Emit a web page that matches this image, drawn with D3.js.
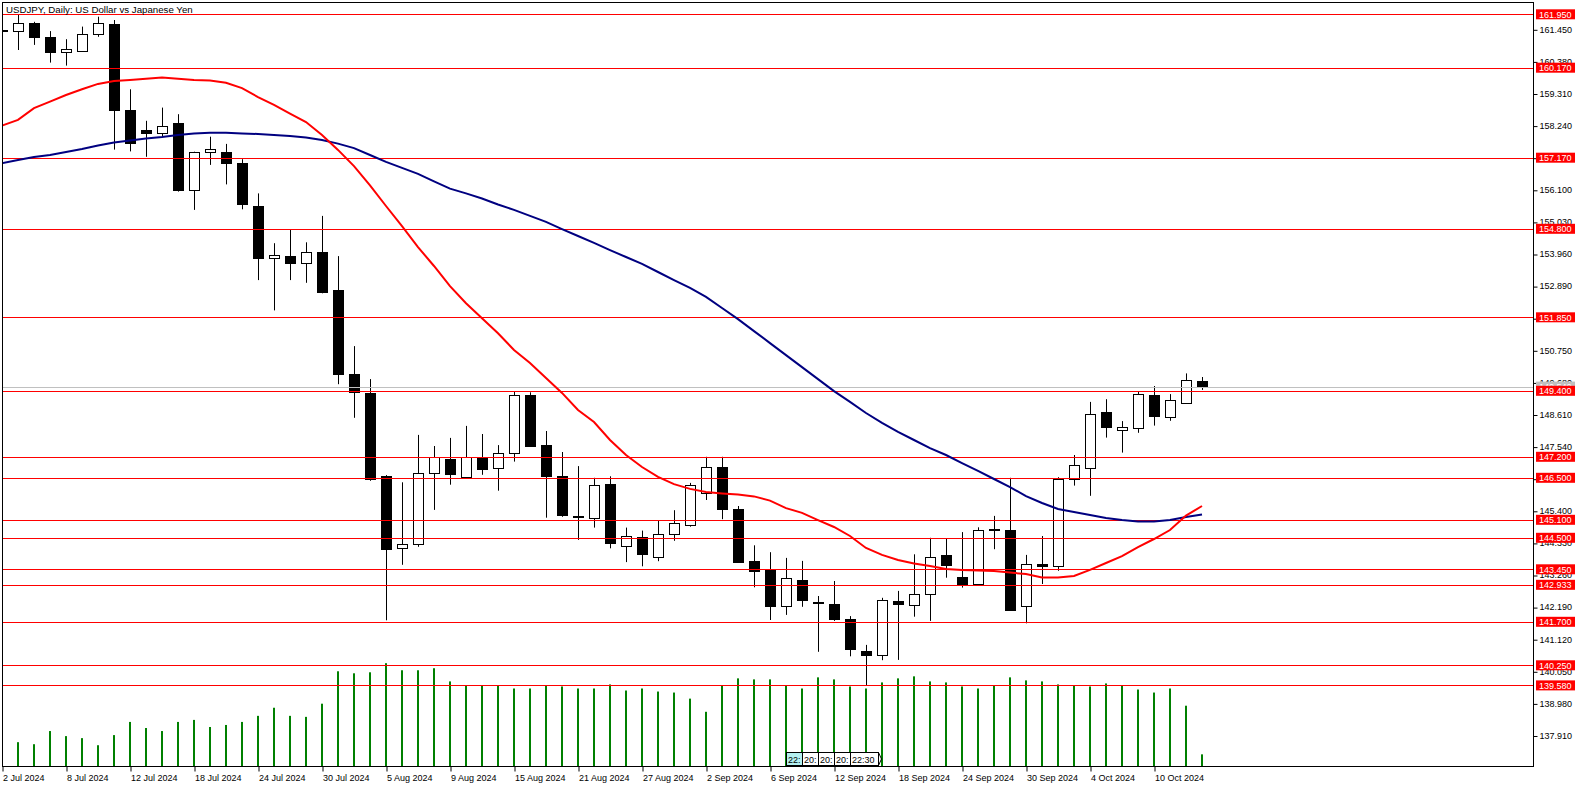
<!DOCTYPE html>
<html>
<head>
<meta charset="utf-8">
<script src="https://cdnjs.cloudflare.com/ajax/libs/d3/7.8.5/d3.min.js"></script>
<style>
body { margin: 0; background: #fff; }
svg text { font-family: "Liberation Sans", Arial, sans-serif; font-size: 9px; }
</style>
</head>
<body>
<div id="chart"></div>
<script>
// daily USDJPY candles, 2 Jul 2024 .. 15 Oct 2024 (one value per bar)
const opens = [161.43,161.37,161.65,161.18,160.67,160.73,161.28,161.62,158.76,158.09,
158.00,158.32,156.09,157.34,157.35,156.98,155.56,153.82,153.89,153.65,
154.02,152.75,149.95,149.33,146.56,144.14,144.28,146.65,147.13,146.54,
147.19,146.82,147.32,149.26,147.58,146.55,145.23,145.14,146.28,144.23,
144.53,143.89,144.64,144.94,145.98,146.85,145.45,143.73,143.43,142.22,
143.08,142.36,142.28,141.79,140.73,140.57,142.38,142.25,142.62,143.93,
143.19,142.95,144.79,144.76,142.22,143.62,143.54,146.45,146.82,148.68,
148.08,148.15,149.26,148.52,148.99,149.72];
const highs = [161.60,161.93,161.70,161.39,161.12,161.54,161.87,161.76,159.45,158.40,
158.84,158.62,157.37,157.87,157.63,157.12,155.98,154.32,154.76,154.35,
155.23,153.89,150.89,149.79,146.59,146.35,147.93,147.56,147.83,148.23,
147.96,147.59,149.39,149.35,148.06,147.36,146.89,146.50,146.55,144.84,
144.74,145.08,145.42,146.33,147.20,147.20,145.56,144.25,144.02,143.83,
143.73,142.56,143.06,141.89,140.93,142.50,142.73,143.95,144.50,144.46,
144.69,144.85,145.23,146.50,143.93,144.56,146.52,147.26,149.03,149.12,
148.39,149.36,149.56,149.29,149.98,149.86];
const lows = [161.30,160.76,160.93,160.34,160.24,160.70,161.20,157.44,157.38,157.20,
157.87,156.04,155.43,156.93,156.28,155.45,153.09,152.08,153.09,153.00,
152.65,149.62,148.50,146.40,141.75,143.60,144.20,145.43,146.27,146.54,
146.60,146.07,147.04,147.54,145.17,145.20,144.43,144.84,144.15,143.69,
143.55,143.72,144.40,144.87,145.76,145.12,143.70,142.85,141.76,141.93,
142.20,140.70,141.73,140.55,139.58,140.42,140.43,141.87,141.73,143.17,
142.84,142.90,144.12,142.07,141.65,142.96,143.40,146.24,145.90,147.84,
147.34,148.00,148.24,148.40,148.97,149.43];
const closes = [161.40,161.65,161.20,160.67,160.78,161.28,161.65,158.76,157.67,158.00,
158.24,156.09,157.35,157.45,156.98,155.60,153.84,153.93,153.67,154.02,
152.70,149.95,149.34,146.48,144.14,144.28,146.65,147.18,146.62,147.19,
146.80,147.32,149.26,147.57,146.54,145.24,145.21,146.25,144.30,144.57,
143.96,144.64,145.01,146.26,146.85,145.45,143.70,143.40,142.24,143.15,
142.40,142.34,141.79,140.79,140.60,142.42,142.27,142.62,143.85,143.60,
142.92,144.76,144.74,142.10,143.62,143.54,146.45,146.92,148.63,148.17,
148.18,149.29,148.55,149.08,149.75,149.54];
// tick volume (thousands)
const volumes = [0,24,22,35,30,28,21,31,44,38,
35,44,46,39,41,44,50,58,50,49,
62,94,92,93,102,95,95,97,84,80,
80,80,77,77,80,79,77,77,81,75,
77,74,73,67,54,80,87,86,86,80,
77,88,86,79,77,83,87,89,84,83,
79,77,80,88,85,84,81,80,79,82,
80,76,73,77,60,12];
// moving averages
const redMA = [158.24,158.43,158.82,159.04,159.26,159.45,159.63,159.73,159.76,159.80,
159.84,159.80,159.76,159.74,159.67,159.49,159.19,158.93,158.64,158.36,
157.93,157.43,156.89,156.25,155.56,154.89,154.19,153.56,152.89,152.32,
151.82,151.32,150.76,150.33,149.83,149.33,148.76,148.36,147.76,147.26,
146.86,146.53,146.29,146.13,146.03,145.98,145.94,145.88,145.74,145.49,
145.33,145.09,144.86,144.56,144.16,143.93,143.76,143.64,143.56,143.46,
143.43,143.41,143.39,143.34,143.29,143.18,143.18,143.23,143.43,143.66,
143.89,144.19,144.46,144.76,145.24,145.56];
const blueMA = [156.99,157.09,157.19,157.26,157.36,157.46,157.58,157.68,157.74,157.81,
157.86,157.93,157.98,158.00,158.00,157.98,157.96,157.93,157.89,157.84,
157.76,157.64,157.49,157.26,157.03,156.83,156.63,156.38,156.14,155.98,
155.81,155.61,155.43,155.23,155.03,154.79,154.56,154.33,154.09,153.86,
153.63,153.36,153.09,152.83,152.53,152.16,151.79,151.39,150.99,150.59,
150.19,149.79,149.39,149.03,148.66,148.33,148.03,147.76,147.49,147.26,
146.99,146.73,146.46,146.19,145.89,145.66,145.46,145.36,145.26,145.16,
145.09,145.04,145.04,145.09,145.19,145.28];

const levels = [161.950,160.170,157.170,154.800,151.850,149.400,147.200,146.500,
145.100,144.500,143.450,142.933,141.700,140.250,139.580];
const bid = 149.540;
const priceTicks = ["161.450","160.380","159.310","158.240","157.170","156.100","155.030",
"153.960","152.890","151.820","150.750","149.680","148.610","147.540","146.470","145.400",
"144.330","143.260","142.190","141.120","140.050","138.980","137.910"];
const dateLabels = ["2 Jul 2024","8 Jul 2024","12 Jul 2024","18 Jul 2024","24 Jul 2024",
"30 Jul 2024","5 Aug 2024","9 Aug 2024","15 Aug 2024","21 Aug 2024","27 Aug 2024",
"2 Sep 2024","6 Sep 2024","12 Sep 2024","18 Sep 2024","24 Sep 2024","30 Sep 2024",
"4 Oct 2024","10 Oct 2024"];
const dateBars = [0,4,8,12,16,20,24,28,32,36,40,44,48,52,56,60,64,68,72];
const timeBoxes = ["22:","20:","20:","20:","22:30"];

var width = 1586, height = 788;
var pLeft = 2.5, pTop = 2.5, pRight = 1533.5, pBottom = 766.5;

var svg = d3.select("#chart")
    .append("svg")
    .attr("width", width)
    .attr("height", height)
    .attr("viewBox", `0 0 ${width} ${height}`);

var x = d3.scaleLinear().domain([0, 75]).range([2, 1202]);
var y = d3.scaleLinear().domain([137.91, 161.45]).range([735.5, 29.3]);
var vy = d3.scaleLinear().domain([0, 100]).range([pBottom, pBottom - 101.3]);

svg.append("defs").append("clipPath").attr("id", "plot")
    .append("rect")
    .attr("x", pLeft + 0.5).attr("y", pTop + 0.5)
    .attr("width", pRight - pLeft - 1).attr("height", pBottom - pTop - 1);

const plot = svg.append("g").attr("clip-path", "url(#plot)");

function cx(i) { return Math.round(x(i)) + 0.5; }

// volumes
plot.append("g").selectAll("rect")
    .data(volumes)
    .enter()
    .append("rect")
    .attr("x", (d, i) => cx(i) - 1.5)
    .attr("width", 2)
    .attr("y", d => vy(d))
    .attr("height", d => pBottom - vy(d))
    .attr("fill", "#008000");

// candles
const bars = d3.range(opens.length);
const candle = plot.append("g").selectAll("g")
    .data(bars)
    .enter().append("g");

candle.append("line")
    .attr("x1", i => cx(i)).attr("x2", i => cx(i))
    .attr("y1", i => y(highs[i])).attr("y2", i => y(lows[i]))
    .attr("stroke", "#000").attr("stroke-width", 1);

candle.append("rect")
    .attr("x", i => cx(i) - 5)
    .attr("width", 10)
    .attr("y", i => Math.round(y(Math.max(opens[i], closes[i]))) + 0.5)
    .attr("height", i => Math.max(0, Math.round(Math.abs(y(opens[i]) - y(closes[i])))))
    .attr("fill", i => closes[i] >= opens[i] ? "#fff" : "#000")
    .attr("stroke", "#000").attr("stroke-width", 1);

// level lines
plot.append("g").selectAll("line")
    .data(levels)
    .enter().append("line")
    .attr("x1", pLeft).attr("x2", pRight)
    .attr("y1", d => Math.round(y(d)) + 0.5).attr("y2", d => Math.round(y(d)) + 0.5)
    .attr("stroke", "#ff0000").attr("stroke-width", 1);

plot.append("line")
    .attr("x1", pLeft).attr("x2", pRight)
    .attr("y1", Math.round(y(bid)) + 0.5).attr("y2", Math.round(y(bid)) + 0.5)
    .attr("stroke", "#c0c0c0").attr("stroke-width", 1);

// moving averages
let maLine = d3.line().x((d, i) => x(i)).y(d => y(d));
plot.append("path").datum(blueMA)
    .attr("d", maLine).attr("fill", "none")
    .attr("stroke", "#000080").attr("stroke-width", 2);
plot.append("path").datum(redMA)
    .attr("d", maLine).attr("fill", "none")
    .attr("stroke", "#ff0000").attr("stroke-width", 2);

// time boxes near the bottom
let bx = 786;
const boxG = svg.append("g");
timeBoxes.forEach(function (t, k) {
    var w = t.length > 3 ? 28 : 16;
    boxG.append("rect")
        .attr("x", bx + 0.5).attr("y", 752.5)
        .attr("width", w).attr("height", 13)
        .attr("fill", k == 0 ? "#b4f0f0" : "#fff")
        .attr("stroke", "#000");
    boxG.append("text")
        .attr("x", bx + 2).attr("y", 762.5)
        .text(t);
    bx += w;
});
boxG.append("path")
    .attr("d", `M${bx + 0.5},752.5 L${bx + 3.5},759 L${bx + 0.5},765.5`)
    .attr("fill", "none").attr("stroke", "#000");

// frame
svg.append("rect")
    .attr("x", pLeft).attr("y", pTop)
    .attr("width", pRight - pLeft).attr("height", pBottom - pTop)
    .attr("fill", "none").attr("stroke", "#000");

// price axis
const yAxis = d3.axisRight(y)
    .tickValues(priceTicks.map(Number))
    .tickFormat((d, i) => priceTicks[i])
    .tickSize(4)
    .tickPadding(2);

const ya = svg.append("g")
    .attr("transform", `translate(${pRight},0)`)
    .call(yAxis);
ya.select(".domain").remove();
ya.selectAll("line").attr("stroke", "#000").attr("transform", "translate(0,0.5)");
ya.selectAll("text").attr("fill", "#000").style("font-size", "9px")
    .style("font-family", '"Liberation Sans", Arial, sans-serif');

// bid label, then level labels on top
const labelG = svg.append("g");
labelG.append("rect")
    .attr("x", 1536).attr("y", y(bid) - 5)
    .attr("width", 39).attr("height", 10)
    .attr("fill", "#c0c0c0");
labelG.append("text")
    .attr("x", 1539).attr("y", y(bid) + 3.3)
    .attr("fill", "#fff")
    .text(d3.format(".3f")(bid));

labelG.selectAll(".lvl")
    .data(levels)
    .enter().append("rect")
    .attr("class", "lvl")
    .attr("x", 1536).attr("y", d => y(d) - 5)
    .attr("width", 39).attr("height", 10)
    .attr("fill", "#ff0000");
labelG.selectAll(".lvlt")
    .data(levels)
    .enter().append("text")
    .attr("class", "lvlt")
    .attr("x", 1539).attr("y", d => y(d) + 3.3)
    .attr("fill", "#fff")
    .text(d => d3.format(".3f")(d));

// date axis
const xAxis = d3.axisBottom(x)
    .tickValues(dateBars)
    .tickFormat((d, i) => dateLabels[i])
    .tickSize(5)
    .tickPadding(3);
const xa = svg.append("g")
    .attr("transform", `translate(0.5,${pBottom})`)
    .call(xAxis);
xa.select(".domain").remove();
xa.selectAll("line").attr("stroke", "#000");
xa.selectAll("text")
    .attr("text-anchor", "start")
    .attr("fill", "#000")
    .style("font-size", "9px")
    .style("font-family", '"Liberation Sans", Arial, sans-serif');

// title
svg.append("text")
    .attr("x", 6).attr("y", 12.5)
    .attr("fill", "#000")
    .style("font-size", "9.7px")
    .text("USDJPY, Daily:  US Dollar vs Japanese Yen");
</script>
</body>
</html>
